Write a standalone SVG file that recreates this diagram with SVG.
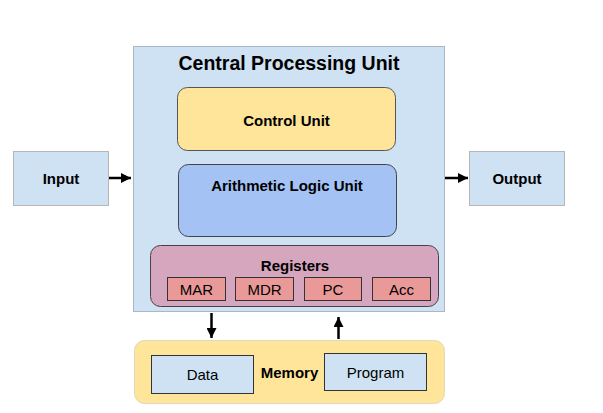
<svg xmlns="http://www.w3.org/2000/svg" width="603" height="413" viewBox="0 0 603 413">
<defs>
<marker id="ah" viewBox="0 0 10 10" refX="10" refY="5" markerWidth="4" markerHeight="4" orient="auto" markerUnits="strokeWidth">
<path d="M0,0 L10,5 L0,10 z" fill="#000"/>
</marker>
<style>
text{font-family:"Liberation Sans",Arial,sans-serif;font-size:15px;fill:#000;text-anchor:middle}
.b{font-weight:bold}
.t{font-size:19.5px;font-weight:bold}
.io{fill:#cfe2f3;stroke:#b7b7b7;stroke-width:1}
.cpu{fill:#cfe2f3;stroke:#a9b7c6;stroke-width:1}
.cu{fill:#ffe599;stroke:#555;stroke-width:1}
.alu{fill:#a4c2f4;stroke:#444;stroke-width:1}
.reg{fill:#d5a6bd;stroke:#444;stroke-width:1}
.r{fill:#ea9999;stroke:#333;stroke-width:1}
.mem{fill:#ffe599;stroke:#e0d8b8;stroke-width:1}
.mb{fill:#cfe2f3;stroke:#333;stroke-width:1}
.c{stroke:#000;stroke-width:2.5;fill:none;marker-end:url(#ah)}
</style>
</defs>
<rect width="603" height="413" fill="#fff"/>
<g id="input"><rect class="io" x="13.5" y="151.5" width="95" height="54"/><text class="b" x="61" y="183.5">Input</text></g>
<g id="output"><rect class="io" x="469.5" y="151.5" width="95" height="54"/><text class="b" x="517" y="183.5">Output</text></g>
<g id="cpu"><rect class="cpu" x="133.5" y="46.5" width="311" height="265"/><text class="t" x="289" y="69.5">Central Processing Unit</text></g>
<g id="control-unit"><rect class="cu" x="177.5" y="87.5" width="218" height="63" rx="10"/><text class="b" x="286.5" y="125.5">Control Unit</text></g>
<g id="alu"><rect class="alu" x="178.5" y="164.5" width="218" height="72" rx="10"/><text class="b" x="287" y="190.5">Arithmetic Logic Unit</text></g>
<g id="registers"><rect class="reg" x="150.5" y="245.5" width="288" height="61" rx="10"/><text class="b" x="295" y="270.5">Registers</text></g>
<g id="mar"><rect class="r" x="167.5" y="277.5" width="58" height="23"/><text x="196.5" y="295">MAR</text></g>
<g id="mdr"><rect class="r" x="235.5" y="277.5" width="58" height="23"/><text x="264.5" y="295">MDR</text></g>
<g id="pc"><rect class="r" x="304.5" y="277.5" width="57" height="23"/><text x="333" y="295">PC</text></g>
<g id="acc"><rect class="r" x="372.5" y="277.5" width="58" height="23"/><text x="401.5" y="295">Acc</text></g>
<g id="memory"><rect class="mem" x="134.5" y="340.5" width="310" height="63" rx="10"/><text class="b" x="289.5" y="378">Memory</text></g>
<g id="data"><rect class="mb" x="151.5" y="355.5" width="102" height="38"/><text x="202.5" y="380">Data</text></g>
<g id="program"><rect class="mb" x="324.5" y="353.5" width="102" height="37"/><text x="375.5" y="378">Program</text></g>
<g id="connectors">
<line class="c" x1="109" y1="178" x2="131" y2="178"/>
<line class="c" x1="445" y1="178" x2="468" y2="178"/>
<line class="c" x1="211.5" y1="313" x2="211.5" y2="338"/>
<line class="c" x1="338.5" y1="339" x2="338.5" y2="317"/>
</g>
</svg>
